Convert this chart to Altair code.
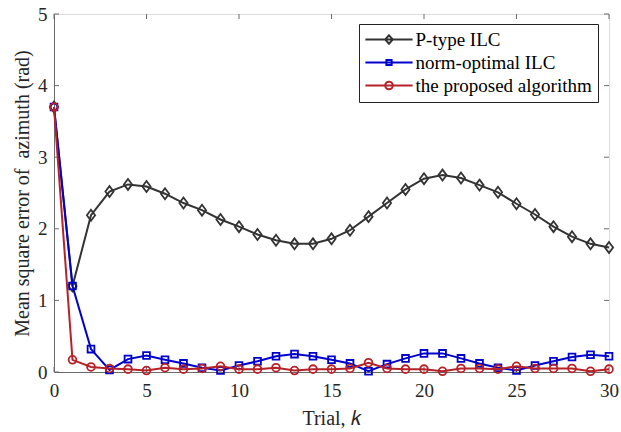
import altair as alt
import pandas as pd

# Mean square error of azimuth per trial for the three learning laws
trials = list(range(31))
p_type = [3.70, 1.20, 2.19, 2.52, 2.62, 2.59, 2.49, 2.36, 2.26, 2.13, 2.03,
          1.92, 1.84, 1.79, 1.79, 1.86, 1.98, 2.17, 2.36, 2.55, 2.70,
          2.75, 2.71, 2.61, 2.51, 2.35, 2.20, 2.03, 1.89, 1.79, 1.74]
norm_optimal = [3.70, 1.20, 0.32, 0.03, 0.18, 0.23, 0.17, 0.12, 0.06, 0.02, 0.09,
                0.15, 0.22, 0.25, 0.22, 0.17, 0.12, 0.01, 0.11, 0.19, 0.26,
                0.26, 0.19, 0.12, 0.06, 0.02, 0.09, 0.15, 0.21, 0.24, 0.22]
proposed = [3.70, 0.17, 0.07, 0.05, 0.04, 0.02, 0.06, 0.04, 0.05, 0.08, 0.04,
            0.04, 0.06, 0.02, 0.04, 0.04, 0.05, 0.13, 0.05, 0.04, 0.04,
            0.01, 0.05, 0.05, 0.04, 0.08, 0.05, 0.05, 0.05, 0.01, 0.04]

series_names = ["P-type ILC", "norm-optimal ILC", "the proposed algorithm"]
series_colors = ["#333333", "#0000CD", "#B52228"]
x_ticks = [0, 5, 10, 15, 20, 25, 30]
y_ticks = [0, 1, 2, 3, 4, 5]

W, H = 555, 358
FONT = "Liberation Serif"
AXIS_GREY = "#6b6b6b"
TEXT = "#262626"

frames = []
for name, vals in zip(series_names, [p_type, norm_optimal, proposed]):
    frames.append(pd.DataFrame({"trial": trials, "mse": vals, "series": name}))
df = pd.concat(frames, ignore_index=True)

# marker path for the diamonds (unit box) and legend glyphs: a line with the marker on it
DIAMOND = "M0,-1L0.75,0L0,1L-0.75,0Z"
LEG_P = "M-5.9,0L5.9,0M0,-1.05L0.95,0L0,1.05L-0.95,0Z"
LEG_N = "M-5.9,0L5.9,0M-0.65,-0.65L0.65,-0.65L0.65,0.65L-0.65,0.65Z"
LEG_R = "M-5.9,0L5.9,0M-0.95,0A0.95,0.95,0,1,1,0.95,0A0.95,0.95,0,1,1,-0.95,0"

x_scale = alt.Scale(domain=[0, 30], nice=False, zero=False)
y_scale = alt.Scale(domain=[0, 5], nice=False)
color_scale = alt.Scale(domain=series_names, range=series_colors)
x_axis = alt.Axis(values=x_ticks, title="Trial, 𝑘", grid=False, ticks=False, tickSize=0,
                  domainColor=AXIS_GREY, labelFont=FONT, labelFontSize=19,
                  labelColor=TEXT, labelPadding=9, titleFont=FONT, titleFontSize=20,
                  titleFontWeight="normal", titleColor=TEXT, titlePadding=8,
                  labelFlush=False)
y_axis = alt.Axis(values=y_ticks, title="Mean square error of\u00a0 azimuth (rad)",
                  grid=False, ticks=False, tickSize=0, domainColor=AXIS_GREY,
                  labelFont=FONT, labelFontSize=19, labelColor=TEXT, labelPadding=7,
                  titleFont=FONT, titleFontSize=20, titleFontWeight="normal",
                  titleColor=TEXT, titlePadding=5, labelFlush=False)

legend = alt.Legend(
    title=None, orient="none", legendX=305, legendY=10,
    labelFont=FONT, labelFontSize=19, labelColor="black", labelLimit=400,
    symbolSize=64, symbolStrokeWidth=2, symbolOffset=14.5, labelOffset=17,
    symbolOpacity=1, rowPadding=3, padding=6, strokeColor="#222222",
    fillColor="white", cornerRadius=0,
)

x_enc = alt.X("trial:Q", scale=x_scale, axis=x_axis)
y_enc = alt.Y("mse:Q", scale=y_scale, axis=y_axis)

marker_shape = {series_names[0]: DIAMOND, series_names[1]: "square", series_names[2]: "circle"}
marker_size = {series_names[0]: 120, series_names[1]: 46, series_names[2]: 60}

layers = []
for name, col in zip(series_names, series_colors):
    sub = alt.Chart(df).transform_filter(alt.datum.series == name)
    layers.append(sub.mark_line(strokeWidth=2, color=col).encode(x=x_enc, y=y_enc))
    layers.append(sub.mark_point(shape=marker_shape[name], size=marker_size[name],
                                 filled=False, strokeWidth=1.8, opacity=1, color=col)
                  .encode(x=x_enc, y=y_enc))

# legend carrier: no rows pass the filter, only the scales' legend is drawn
legend_layer = (
    alt.Chart(df).transform_filter("false")
    .mark_point(filled=False, strokeWidth=2)
    .encode(
        x=x_enc, y=y_enc,
        color=alt.Color("series:N", scale=color_scale, legend=legend),
        shape=alt.Shape("series:N", scale=alt.Scale(domain=series_names,
                                                    range=[LEG_P, LEG_N, LEG_R]),
                        legend=legend),
    )
)

# inward tick marks on all four sides of the box
xt = pd.DataFrame({"t": x_ticks})
yt = pd.DataFrame({"v": y_ticks})
tx = alt.X("t:Q", scale=x_scale, axis=x_axis)
ty = alt.Y("v:Q", scale=y_scale, axis=y_axis)
tick_style = dict(color=AXIS_GREY, strokeWidth=1)
ticks = [
    alt.Chart(xt).mark_rule(**tick_style).encode(x=tx, y=alt.value(H), y2=alt.value(H - 5)),
    alt.Chart(xt).mark_rule(**tick_style).encode(x=tx, y=alt.value(0), y2=alt.value(5)),
    alt.Chart(yt).mark_rule(**tick_style).encode(y=ty, x=alt.value(0), x2=alt.value(5)),
    alt.Chart(yt).mark_rule(**tick_style).encode(y=ty, x=alt.value(W), x2=alt.value(W - 5)),
]

chart = (
    alt.layer(*ticks, *layers, legend_layer)
    .properties(width=W, height=H,
                padding={"left": 54, "top": 14, "right": 12, "bottom": 60},
                autosize=alt.AutoSizeParams(type="none"))
    .configure_view(stroke=AXIS_GREY, strokeWidth=1)
    .configure(background="white")
)

chart.save("out.html", embed_options={"renderer": "svg", "actions": False})
